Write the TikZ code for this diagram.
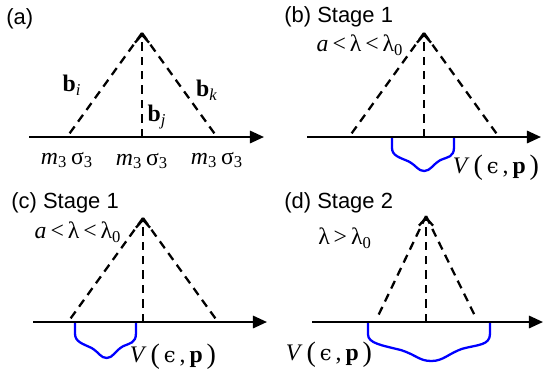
\documentclass[tikz,border=0pt]{standalone}
\usepackage{fontspec}
\setsansfont{Liberation Sans}
\newfontfamily\serif{Liberation Serif}
\newfontfamily\grk{DejaVu Serif}
\usetikzlibrary{arrows.meta}

\newcommand{\site}{\textit{m}\textsubscript{3}\,σ\textsubscript{3}}
\newcommand{\bigp}[1]{{\fontsize{16}{16}\selectfont\raisebox{-0.5pt}{#1}}}
\newcommand{\pot}{\textit{V}\,\bigp{(}\,{\grk\fontsize{12}{13}\selectfont ϵ}\,,\,\textbf{p}\,\bigp{)}}

\tikzset{
  dip/.pic={
    \draw[wave] (0,0) -- (0,0.32) .. controls (0,0.55) and (0.12,0.6) .. (0.27,0.72)
      .. controls (0.4,0.85) and (0.42,1) .. (0.52,1)
      .. controls (0.62,1) and (0.66,0.8) .. (0.78,0.68)
      .. controls (0.9,0.58) and (1,0.6) .. (1,0.3) -- (1,0);
  }
}

\begin{document}
\begin{tikzpicture}[
		x=0.02cm, y=-0.02cm,
		axis/.style={line width=1.3pt, -{Triangle[length=8pt,width=7pt]}},
		ray/.style={line width=1.3pt, dash pattern=on 4.8pt off 3.4pt},
		midray/.style={ray, -{Straight Barb[length=4.5pt,width=8pt]}},
		wave/.style={line width=1.3pt, blue},
		tag/.style={font=\fontsize{12.5}{14}\selectfont\sffamily, anchor=west, inner sep=0pt},
		lbl/.style={inner sep=0pt, font=\fontsize{13.5}{15}\selectfont\serif}
	]
		\useasboundingbox (0,0) rectangle (543,373);

		% (a)
		\node[tag] (tagA) at (6,19) {(a)};
		\coordinate (apexA) at (142,33);
		\coordinate (startA) at (29,137);
		\coordinate (endA) at (264,137);
		\coordinate (leftA) at (67,137);
		\coordinate (midA) at (142,137);
		\coordinate (rightA) at (217,137);
		\draw[axis] (startA) -- (endA);
		\draw[ray] (apexA) -- (leftA);
		\draw[ray] (apexA) -- (rightA);
		\draw[midray] (midA) -- (apexA);
		\node[lbl] (bi) at (72,85) {\textbf{b}\textsubscript{\textit{i}}};
		\node[lbl] (bj) at (157,117) {\textbf{b}\textsubscript{\textit{j}}};
		\node[lbl] (bk) at (207,90) {\textbf{b}\textsubscript{\textit{k}}};
		\node[lbl] (siteL) at (67,160) {\site};
		\node[lbl] (siteM) at (142,161) {\site};
		\node[lbl] (siteR) at (217,160) {\site};

		% (b)
		\node[tag] (tagB) at (284,17) {(b) Stage 1};
		\coordinate (apexB) at (424,33);
		\coordinate (startB) at (307,137);
		\coordinate (endB) at (541,137);
		\coordinate (leftB) at (349,137);
		\coordinate (midB) at (424,137);
		\coordinate (rightB) at (499,137);
		\pic[xscale=62, yscale=34] at (392,137) {dip};
		\draw[axis] (startB) -- (endB);
		\draw[ray] (apexB) -- (leftB);
		\draw[ray] (apexB) -- (rightB);
		\draw[midray] (midB) -- (apexB);
		\node[lbl] (condB) at (360,45) {\textit{a}\,<\,λ\,<\,λ\textsubscript{0}};
		\node[lbl] (potB) at (496,168) {\pot};

		% (c)
		\node[tag] (tagC) at (11,203) {(c) Stage 1};
		\coordinate (apexC) at (143,218);
		\coordinate (startC) at (33,322);
		\coordinate (endC) at (267,322);
		\coordinate (leftC) at (68,322);
		\coordinate (midC) at (143,322);
		\coordinate (rightC) at (218,322);
		\pic[xscale=61, yscale=36] at (75,322) {dip};
		\draw[axis] (startC) -- (endC);
		\draw[ray] (apexC) -- (leftC);
		\draw[ray] (apexC) -- (rightC);
		\draw[midray] (midC) -- (apexC);
		\node[lbl] (condC) at (78,232) {\textit{a}\,<\,λ\,<\,λ\textsubscript{0}};
		\node[lbl] (potC) at (173,357) {\pot};

		% (d)
		\node[tag] (tagD) at (284,203) {(d) Stage 2};
		\coordinate (apexD) at (426,216);
		\coordinate (startD) at (312,322);
		\coordinate (endD) at (543,322);
		\coordinate (leftD) at (378,316);
		\coordinate (midD) at (426,322);
		\coordinate (rightD) at (475,316);
		\pic[xscale=122, yscale=39] at (368,322) {dip};
		\draw[axis] (startD) -- (endD);
		\draw[ray] (apexD) -- (leftD);
		\draw[ray] (apexD) -- (rightD);
		\draw[midray] (midD) -- (apexD);
		\node[lbl] (condD) at (345,238) {λ\,>\,λ\textsubscript{0}};
		\node[lbl] (potD) at (329,355) {\pot};
	\end{tikzpicture}
\end{document}
